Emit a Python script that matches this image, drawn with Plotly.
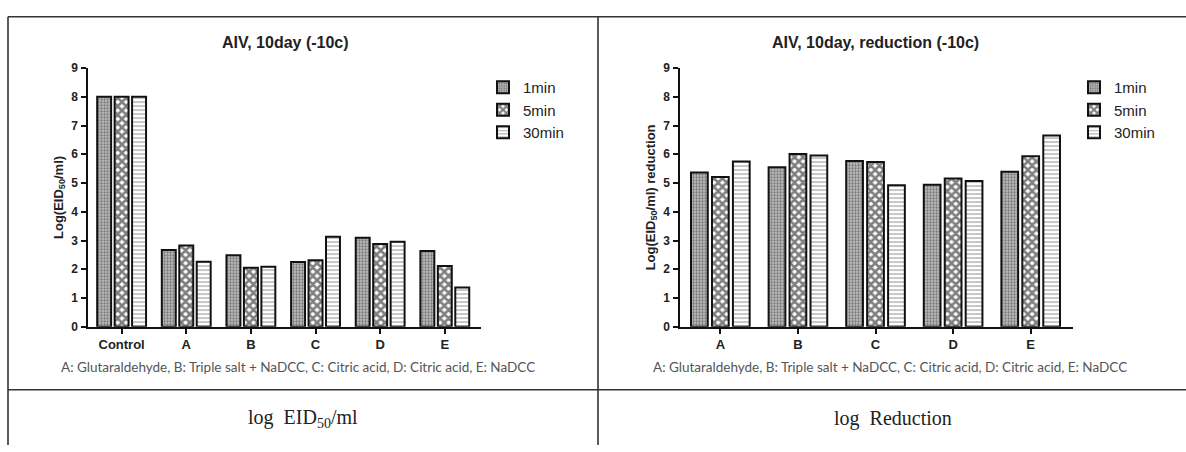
import plotly.graph_objects as go

W, H = 1186, 452

# ---- data ----
cats_left = ["Control", "A", "B", "C", "D", "E"]
left_1min = [8.0, 2.67, 2.49, 2.25, 3.10, 2.64]
left_5min = [8.0, 2.83, 2.05, 2.31, 2.88, 2.11]
left_30min = [8.0, 2.26, 2.09, 3.13, 2.96, 1.37]

cats_right = ["A", "B", "C", "D", "E"]
right_1min = [5.37, 5.55, 5.77, 4.94, 5.39]
right_5min = [5.21, 6.01, 5.73, 5.16, 5.93]
right_30min = [5.75, 5.96, 4.92, 5.07, 6.65]

series_names = ["1min", "5min", "30min"]
y_ticks = [0, 1, 2, 3, 4, 5, 6, 7, 8, 9]

title_left = "AIV, 10day (-10c)"
title_right = "AIV, 10day, reduction (-10c)"
ylab_left = "Log(EID<sub>50</sub>/ml)"
ylab_right = "Log(EID<sub>50</sub>/ml) reduction"
footnote = "A: Glutaraldehyde, B: Triple salt + NaDCC, C: Citric acid, D: Citric acid, E: NaDCC"
caption_left = "log  EID<sub>50</sub>/ml"
caption_right = "log  Reduction"

patterns = [
    dict(shape=".", fgcolor="#333333", bgcolor="#bdbdbd", size=3, solidity=0.45),
    dict(shape="x", fgcolor="#000000", bgcolor="#ffffff", size=6, solidity=0.68),
    dict(shape="-", fgcolor="#5a5a5a", bgcolor="#ffffff", size=4, solidity=0.35),
]

def px(x):
    return x / W

def py(y):
    return 1 - y / H

fig = go.Figure()

for name, vals, pat in zip(series_names, [left_1min, left_5min, left_30min], patterns):
    fig.add_trace(go.Bar(
        x=cats_left, y=vals, name=name, xaxis="x", yaxis="y",
        marker=dict(color=pat["bgcolor"], pattern=pat, line=dict(color="#111", width=2)),
        legend="legend",
    ))
for name, vals, pat in zip(series_names, [right_1min, right_5min, right_30min], patterns):
    fig.add_trace(go.Bar(
        x=cats_right, y=vals, name=name, xaxis="x2", yaxis="y2",
        marker=dict(color=pat["bgcolor"], pattern=pat, line=dict(color="#111", width=2)),
        legend="legend2",
    ))

FAM = "Liberation Sans, Arial"
axis_font = dict(family=FAM, size=12, color="#222", weight="bold")
cat_font = dict(family=FAM, size=13, color="#222", weight="bold")
ytitle_font = dict(family=FAM, size=13, color="#222", weight="bold")

common_x = dict(showline=True, linecolor="#111", linewidth=1.5, ticks="outside",
                ticklen=5, tickwidth=1.5, tickcolor="#111", tickfont=cat_font,
                showgrid=False, zeroline=False, fixedrange=True)
common_y = dict(showline=True, linecolor="#111", linewidth=1.5, ticks="outside",
                ticklen=5, tickwidth=1.5, tickcolor="#111", tickfont=axis_font,
                showgrid=False, zeroline=False, range=[0, 9], tickvals=y_ticks,
                ticklabelstandoff=1)

legend_common = dict(xanchor="left", yanchor="top",
                     font=dict(family=FAM, size=15, color="#222"),
                     bgcolor="rgba(0,0,0,0)", tracegroupgap=0, itemwidth=30)

fig.update_layout(
    width=W, height=H,
    margin=dict(l=0, r=0, t=0, b=0),
    paper_bgcolor="white", plot_bgcolor="white",
    barmode="group", bargap=0.19, bargroupgap=0.2,
    xaxis=dict(domain=[px(88), px(481)], range=[-0.52, 5.56], anchor="y", **common_x),
    yaxis=dict(domain=[py(330), py(63)], anchor="x",
               title=dict(text=ylab_left, font=ytitle_font, standoff=5), **common_y),
    xaxis2=dict(domain=[px(680), px(1072.6)], range=[-0.52, 4.54], anchor="y2", **common_x),
    yaxis2=dict(domain=[py(330), py(63)], anchor="x2",
                title=dict(text=ylab_right, font=ytitle_font, standoff=5), **common_y),
    legend=dict(x=px(483), y=py(66), **legend_common),
    legend2=dict(x=px(1074), y=py(66), **legend_common),
    showlegend=True,
)

annotations = [
    dict(text=title_left, x=px(285), y=py(37), font=dict(family=FAM, size=16, color="#222", weight="bold")),
    dict(text=title_right, x=px(875), y=py(37), font=dict(family=FAM, size=16, color="#222", weight="bold")),
    dict(text=footnote, x=px(298), y=py(371), font=dict(family="Lato", size=13.5, color="#555")),
    dict(text=footnote, x=px(890), y=py(371), font=dict(family="Lato", size=13.5, color="#555")),
    dict(text=caption_left, x=px(303), y=py(425), font=dict(family="Liberation Serif", size=20, color="#222")),
    dict(text=caption_right, x=px(893), y=py(425), font=dict(family="Liberation Serif", size=20, color="#222")),
]
for a in annotations:
    fig.add_annotation(xref="paper", yref="paper", showarrow=False,
                       xanchor="center", yanchor="middle", **a)

# table borders
line = dict(color="#333", width=1.6)
borders = [
    (8, 10, 1186, 10), (8, 10, 8, 452), (598, 10, 598, 452), (8, 395, 1186, 395),
]
for x0, y0, x1, y1 in borders:
    fig.add_shape(type="line", xref="paper", yref="paper",
                  x0=px(x0), y0=py(y0), x1=px(x1), y1=py(y1), line=line)

fig.write_html("out.html")
